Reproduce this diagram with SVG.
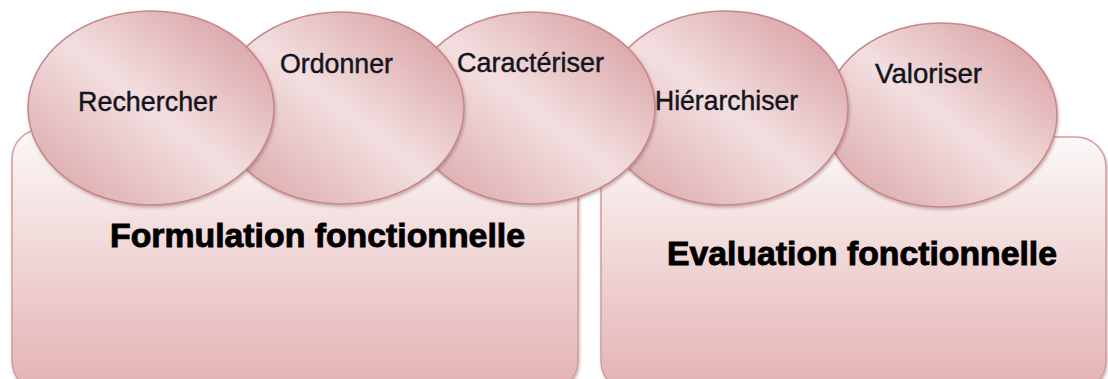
<svg xmlns="http://www.w3.org/2000/svg" width="1108" height="379" viewBox="0 0 1108 379">
  <defs>
    <linearGradient id="panelFill" x1="0" y1="0" x2="0" y2="1">
      <stop offset="0" stop-color="#fcf8f8"/>
      <stop offset="0.3" stop-color="#f5e3e3"/>
      <stop offset="1" stop-color="#e4b2b3"/>
    </linearGradient>
    <linearGradient id="bubbleFill" x1="1" y1="0" x2="0" y2="1">
      <stop offset="0" stop-color="#d49598"/>
      <stop offset="0.5" stop-color="#f3dfe0"/>
      <stop offset="1" stop-color="#d8a0a2"/>
    </linearGradient>
    <filter id="softShadow" x="-10%" y="-10%" width="120%" height="125%">
      <feDropShadow dx="1" dy="2" stdDeviation="1.5" flood-color="#6b3a3b" flood-opacity="0.35"/>
    </filter>
  </defs>
  <style>
    .panel { fill: url(#panelFill); stroke: #d49c9e; stroke-width: 1.5; filter: url(#softShadow); }
    .bubble { fill: url(#bubbleFill); stroke: #c78789; stroke-width: 1.5; filter: url(#softShadow); }
    .step { font-family: "Liberation Sans", Arial, sans-serif; font-size: 27px; fill: #14141e; stroke: #14141e; stroke-width: 0.45; text-anchor: middle; }
    .phase { font-family: "Liberation Sans", Arial, sans-serif; font-size: 33px; font-weight: bold; fill: #000; stroke: #000; stroke-width: 0.9; text-anchor: middle; }
  </style>

  <!-- phase panels -->
  <g id="formulation">
    <rect class="panel" x="12" y="129" width="566" height="262" rx="30" ry="30"/>
    <text class="phase" x="317.5" y="247" textLength="415" lengthAdjust="spacingAndGlyphs">Formulation fonctionnelle</text>
  </g>
  <g id="evaluation">
    <rect class="panel" x="601" y="137" width="505" height="254" rx="30" ry="30"/>
    <text class="phase" x="862" y="265" textLength="390" lengthAdjust="spacingAndGlyphs">Evaluation fonctionnelle</text>
  </g>

  <!-- steps touch each other directly, so this group stays empty -->
  <g id="connectors"/>

  <!-- steps, drawn back to front -->
  <g id="valoriser">
    <ellipse class="bubble" cx="941" cy="115" rx="116" ry="92"/>
    <text class="step" x="928.5" y="83" textLength="107" lengthAdjust="spacingAndGlyphs">Valoriser</text>
  </g>
  <g id="hierarchiser">
    <ellipse class="bubble" cx="725" cy="108" rx="123" ry="97"/>
    <text class="step" x="726.5" y="110" textLength="143" lengthAdjust="spacingAndGlyphs">Hiérarchiser</text>
  </g>
  <g id="caracteriser">
    <ellipse class="bubble" cx="532" cy="108" rx="123" ry="96"/>
    <text class="step" x="530.5" y="72" textLength="147" lengthAdjust="spacingAndGlyphs">Caractériser</text>
  </g>
  <g id="ordonner">
    <ellipse class="bubble" cx="341" cy="108" rx="123" ry="96"/>
    <text class="step" x="336.5" y="73" textLength="113" lengthAdjust="spacingAndGlyphs">Ordonner</text>
  </g>
  <g id="rechercher">
    <ellipse class="bubble" cx="151" cy="108" rx="123" ry="97"/>
    <text class="step" x="147.5" y="111" textLength="139" lengthAdjust="spacingAndGlyphs">Rechercher</text>
  </g>
</svg>
